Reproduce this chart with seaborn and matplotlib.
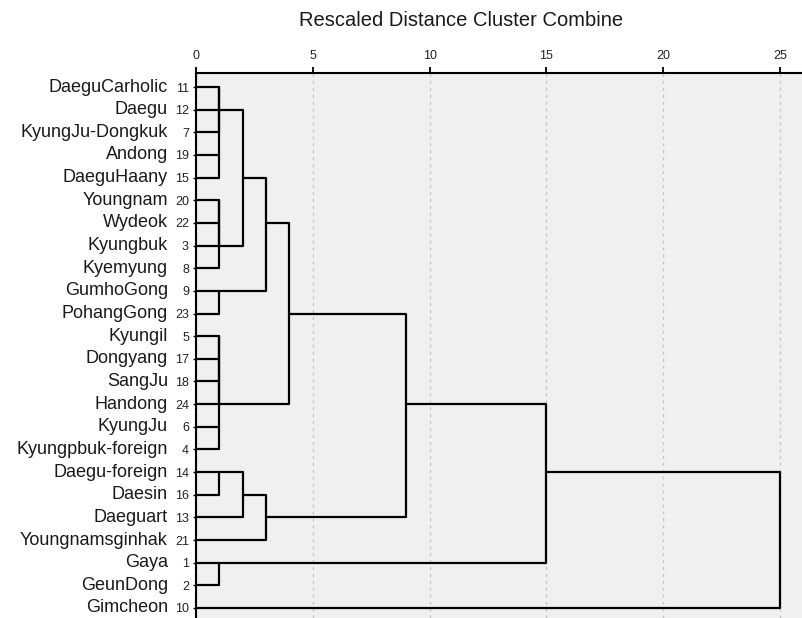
import matplotlib
matplotlib.use("Agg")
import matplotlib.pyplot as plt
import matplotlib.transforms as mtransforms
import seaborn as sns
import pandas as pd

# ---- data -------------------------------------------------------------
names = ["DaeguCarholic", "Daegu", "KyungJu-Dongkuk", "Andong", "DaeguHaany",
         "Youngnam", "Wydeok", "Kyungbuk", "Kyemyung", "GumhoGong", "PohangGong",
         "Kyungil", "Dongyang", "SangJu", "Handong", "KyungJu", "Kyungpbuk-foreign",
         "Daegu-foreign", "Daesin", "Daeguart", "Youngnamsginhak", "Gaya",
         "GeunDong", "Gimcheon"]
case_ids = [11, 12, 7, 19, 15, 20, 22, 3, 8, 9, 23, 5, 17, 18, 24, 6, 4,
            14, 16, 13, 21, 1, 2, 10]

# agglomeration schedule (leaf order index 0..23, new clusters numbered 24+)
merge_a = [1, 0, 3, 25, 5, 28, 29, 9, 11, 32, 33, 15, 34, 17, 21,
           27, 39, 40, 37, 42, 41, 44, 45]
merge_b = [2, 24, 4, 26, 6, 7, 8, 10, 12, 13, 14, 16, 35, 18, 22,
           30, 31, 36, 19, 20, 43, 38, 23]
merge_dist = [1, 1, 1, 1, 1, 1, 1, 1, 1, 1, 1, 1, 1, 1, 1,
              2, 3, 4, 2, 3, 9, 15, 25]
x_ticks = [0, 5, 10, 15, 20, 25]
title = "Rescaled Distance Cluster Combine"

# ---- build dendrogram segments ---------------------------------------
n = len(names)
pos = {i: (0.0, i) for i in range(n)}
rows = []
for k, (a, b, d) in enumerate(zip(merge_a, merge_b, merge_dist)):
    xa, ya = pos[a]
    xb, yb = pos[b]
    for j, (xx, yy) in enumerate([(xa, ya), (d, ya), (d, yb), (xb, yb)]):
        rows.append({"seg": k, "order": j, "x": xx, "y": yy})
    pos[n + k] = (d, (ya + yb) // 2)
seg_df = pd.DataFrame(rows)

# ---- style ------------------------------------------------------------
sns.set_theme(style="ticks")
plt.rcParams["font.family"] = ["Liberation Sans", "DejaVu Sans"]

fig = plt.figure(figsize=(8.02, 6.18), dpi=100)
ax = fig.add_axes([196 / 802, 0.0, 1 - 196 / 802, 1 - 73 / 618])
ax.set_facecolor("#f0f0f0")

sns.lineplot(data=seg_df, x="x", y="y", units="seg", estimator=None,
             sort=False, color="black", lw=1.6, ax=ax, legend=False)

ax.set_xlim(0, 25.94)
ax.set_ylim(23 + 10 / 22.65, -14 / 22.65)

# x axis on top
ax.xaxis.tick_top()
ax.set_xticks(x_ticks)
ax.set_xticklabels([str(t) for t in x_ticks], fontsize=9, color="#222222")
ax.tick_params(axis="x", direction="out", length=4.3, width=1.3,
               pad=3.5, color="black")
ax.xaxis.set_label_position("top")
ax.set_xlabel("")
ax.set_ylabel("")

# y ticks: case numbers
ax.set_yticks(range(n))
ax.set_yticklabels([str(c) for c in case_ids], fontsize=9, color="#222222")
ax.tick_params(axis="y", direction="out", length=2.2, width=1.0,
               pad=2.9, color="black")

# names to the left of the numbers
trans = mtransforms.blended_transform_factory(ax.transAxes, ax.transData)
for i, nm in enumerate(names):
    ax.annotate(nm, xy=(0, i), xycoords=trans, xytext=(-20.2, 0),
                textcoords="offset points", ha="right", va="center",
                fontsize=13, color="#1a1a1a")

# grid
ax.grid(axis="x", color="#c4c4c4", linestyle=(0, (2, 3)), lw=1.0)
ax.grid(axis="y", visible=False)
ax.set_axisbelow(True)

for side in ["right", "bottom"]:
    ax.spines[side].set_visible(False)
for side in ["left", "top"]:
    ax.spines[side].set_color("black")
    ax.spines[side].set_linewidth(1.5)

fig.text(461 / 802, 1 - 21 / 618, title, ha="center", va="center",
         fontsize=14.5, color="#1a1a1a")

fig.savefig("out.png", dpi=100, facecolor="white")
